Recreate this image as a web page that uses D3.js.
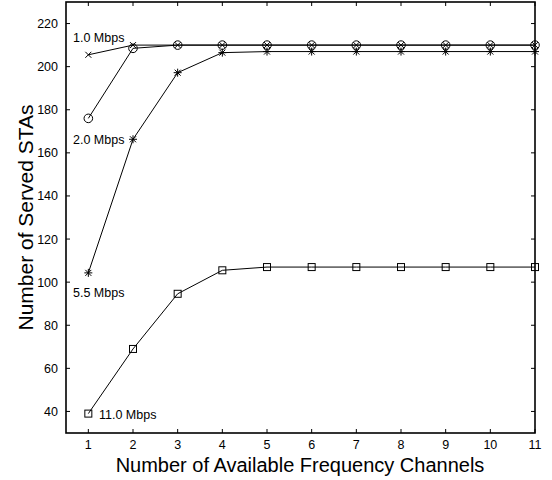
<!DOCTYPE html>
<html>
<head>
<meta charset="utf-8">
<script src="https://cdn.jsdelivr.net/npm/d3@7"></script>
<style>
body { margin: 0; background: #fff; }
svg text { font-family: "Liberation Sans", Arial, sans-serif; }
</style>
</head>
<body>
<svg id="chart" width="552" height="480"></svg>
<script>
// channels on the x axis
var channels = [1, 2, 3, 4, 5, 6, 7, 8, 9, 10, 11];
var rate10 = [205.5, 210, 210, 210, 210, 210, 210, 210, 210, 210, 210];
var rate20 = [176, 208.5, 210, 210, 210, 210, 210, 210, 210, 210, 210];
var rate55 = [104.3, 166.3, 197.2, 206.5, 207, 207, 207, 207, 207, 207, 207];
var rate110 = [39, 69, 94.6, 105.5, 107, 107, 107, 107, 107, 107, 107];
var xTicks = [1, 2, 3, 4, 5, 6, 7, 8, 9, 10, 11];
var yTicks = [40, 60, 80, 100, 120, 140, 160, 180, 200, 220];

var svg = d3.select("#chart");
var L = 66, R = 535, T = 2, B = 433;

var x = d3.scaleLinear().domain([0.5, 11]).range([L, R]);
var y = d3.scaleLinear().domain([30, 230]).range([B, T]);

// ticks, inward on all four sides
var g = svg.append("g");
xTicks.forEach(function(t){
    g.append("line").attr("x1",x(t)).attr("x2",x(t)).attr("y1",B).attr("y2",B-4).attr("stroke","black");
    g.append("line").attr("x1",x(t)).attr("x2",x(t)).attr("y1",T).attr("y2",T+4).attr("stroke","black");
    g.append("text").attr("x",x(t)).attr("y",449).attr("text-anchor","middle")
     .attr("font-size",12.5).text(t);
});
yTicks.forEach(function(t){
    g.append("line").attr("x1",L).attr("x2",L+4).attr("y1",y(t)).attr("y2",y(t)).attr("stroke","black");
    g.append("line").attr("x1",R).attr("x2",R-4).attr("y1",y(t)).attr("y2",y(t)).attr("stroke","black");
    g.append("text").attr("x",58).attr("y",y(t)+4.5).attr("text-anchor","end")
     .attr("font-size",12.5).text(t);
});

svg.append("rect")
   .attr("x",L).attr("y",T).attr("width",R-L).attr("height",B-T)
   .attr("fill","none").attr("stroke","black").attr("stroke-width",1.6);

var line = d3.line().x(function(d,i){ return x(channels[i]); }).y(function(d){ return y(d); });

function series(vals, marker){
    svg.append("path").datum(vals).attr("d",line)
       .attr("fill","none").attr("stroke","black").attr("stroke-width",1);
    vals.forEach(function(v,i){
        var cx = x(channels[i]), cy = y(v);
        var m = svg.append("g").attr("transform","translate("+cx+","+cy+")")
                   .attr("stroke","black").attr("fill","none").attr("stroke-width",1);
        if(marker=="x"){
            m.append("path").attr("d","M-3,-3L3,3M-3,3L3,-3");
        } else if(marker=="o"){
            m.append("circle").attr("r",4.3);
        } else if(marker=="*"){
            m.append("path").attr("d","M-4,0L4,0M0,-4L0,4M-3,-3L3,3M-3,3L3,-3");
        } else {
            m.append("rect").attr("x",-3.5).attr("y",-3.5).attr("width",7).attr("height",7);
        }
    });
}
series(rate110, "s");
series(rate55, "*");
series(rate20, "o");
series(rate10, "x");

// series labels
var labels = [["1.0 Mbps",73,42],["2.0 Mbps",73,144],["5.5 Mbps",73,297],["11.0 Mbps",99,419]];
labels.forEach(function(l){
    svg.append("text").attr("x",l[1]).attr("y",l[2]).attr("font-size",12.5).text(l[0]);
});

svg.append("text").attr("x",300).attr("y",472).attr("text-anchor","middle")
   .attr("font-size",20).text("Number of Available Frequency Channels");
svg.append("text").attr("transform","translate(33,"+((T+B)/2)+") rotate(-90)")
   .attr("text-anchor","middle").attr("font-size",21).text("Number of Served STAs");
</script>
</body>
</html>
